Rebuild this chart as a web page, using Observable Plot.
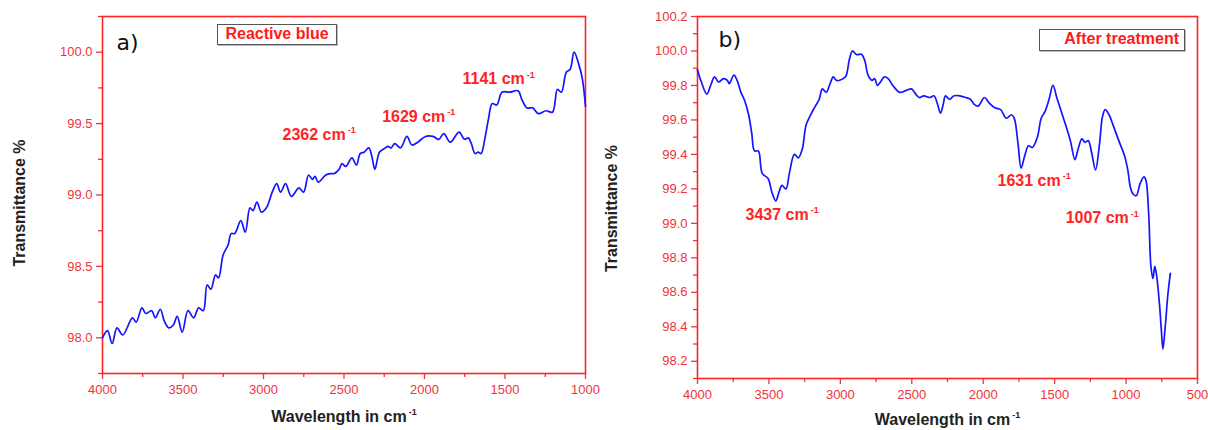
<!DOCTYPE html>
<html>
<head>
<meta charset="utf-8">
<script src="https://cdn.jsdelivr.net/npm/d3@7"></script>
<script src="https://cdn.jsdelivr.net/npm/@observablehq/plot@0.6"></script>
<style>
  body { margin: 0; background: #fff; }
  #wrap { position: relative; width: 1208px; height: 430px; overflow: hidden;
          font-family: "Liberation Sans", Arial, sans-serif; }
  .panel { position: absolute; top: 0; }
  .legend { position: absolute; box-sizing: border-box; border: 1px solid #555; background: #fff;
            color: #ff1a1a; font-weight: bold; font-size: 16px; line-height: 18px;
            box-shadow: 1px 1px 0 #bbb; white-space: nowrap; }
</style>
</head>
<body>
<div id="wrap"></div>
<script>
// FTIR spectrum (a): reactive blue dye
const wnA = [4000, 3969, 3940, 3910, 3874, 3814, 3791, 3755, 3731, 3695, 3672, 3641, 3617, 3588, 3560, 3536,
  3505, 3469, 3434, 3403, 3374, 3350, 3327, 3298, 3279, 3251, 3220, 3201, 3179, 3141, 3113, 3084, 3065,
  3041, 3013, 2982, 2946, 2918, 2894, 2863, 2827, 2780, 2751, 2720, 2696, 2680, 2660, 2613, 2584, 2561,
  2530, 2513, 2489, 2451, 2423, 2399, 2375, 2346, 2327, 2308, 2280, 2256, 2227, 2208, 2185, 2149, 2109,
  2078, 2042, 1994, 1947, 1911, 1880, 1840, 1785, 1752, 1728, 1709, 1686, 1667, 1648, 1626, 1603, 1579,
  1551, 1519, 1471, 1419, 1396, 1364, 1328, 1293, 1245, 1205, 1174, 1150, 1119, 1095, 1071, 1043, 1019, 1000];
const tA = [98.00, 98.05, 97.96, 98.07, 98.02, 98.14, 98.11, 98.21, 98.17, 98.19, 98.14, 98.20, 98.12, 98.07,
  98.09, 98.15, 98.04, 98.19, 98.14, 98.21, 98.19, 98.37, 98.34, 98.44, 98.42, 98.58, 98.65, 98.73, 98.73,
  98.82, 98.74, 98.91, 98.89, 98.95, 98.88, 98.91, 99.02, 99.08, 99.02, 99.08, 98.99, 99.05, 99.02, 99.14,
  99.11, 99.13, 99.09, 99.14, 99.15, 99.15, 99.18, 99.22, 99.20, 99.26, 99.21, 99.29, 99.30, 99.33, 99.27,
  99.18, 99.30, 99.32, 99.34, 99.33, 99.36, 99.33, 99.41, 99.35, 99.37, 99.41, 99.41, 99.39, 99.43, 99.37,
  99.44, 99.39, 99.40, 99.36, 99.29, 99.30, 99.29, 99.39, 99.53, 99.64, 99.63, 99.72, 99.72, 99.73, 99.67,
  99.61, 99.61, 99.57, 99.59, 99.58, 99.74, 99.72, 99.86, 99.88, 100.00, 99.92, 99.81, 99.62];

// FTIR spectrum (b): after treatment
const wnB = [4000, 3973, 3935, 3908, 3881, 3853, 3818, 3791, 3778, 3745, 3723, 3696, 3669, 3642, 3620, 3601,
  3574, 3547, 3506, 3479, 3452, 3430, 3409, 3381, 3357, 3322, 3295, 3267, 3240, 3208, 3175, 3148, 3126,
  3099, 3072, 3050, 3029, 3004, 2964, 2937, 2915, 2888, 2850, 2828, 2806, 2779, 2760, 2741, 2719, 2692,
  2665, 2633, 2584, 2543, 2502, 2481, 2448, 2416, 2372, 2345, 2323, 2299, 2280, 2264, 2237, 2204, 2163,
  2123, 2090, 2063, 2036, 1992, 1960, 1919, 1878, 1838, 1802, 1783, 1756, 1735, 1710, 1683, 1656, 1621,
  1594, 1567, 1539, 1512, 1485, 1458, 1423, 1390, 1358, 1336, 1309, 1287, 1265, 1241, 1214, 1186, 1165,
  1146, 1119, 1091, 1051, 1010, 988, 970, 951, 929, 902, 875, 861, 842, 826, 812, 799, 785, 766, 753,
  742, 726, 707, 690];
const tB = [99.89, 99.82, 99.75, 99.80, 99.85, 99.82, 99.84, 99.83, 99.81, 99.86, 99.83, 99.76, 99.71, 99.63,
  99.52, 99.42, 99.42, 99.29, 99.26, 99.18, 99.13, 99.18, 99.22, 99.20, 99.29, 99.40, 99.38, 99.43, 99.57,
  99.63, 99.68, 99.72, 99.78, 99.76, 99.81, 99.85, 99.83, 99.83, 99.85, 99.95, 100.00, 99.98, 99.98, 99.94,
  99.86, 99.83, 99.84, 99.80, 99.82, 99.85, 99.84, 99.80, 99.76, 99.77, 99.78, 99.76, 99.73, 99.74, 99.73,
  99.74, 99.70, 99.64, 99.69, 99.74, 99.72, 99.74, 99.74, 99.73, 99.72, 99.69, 99.68, 99.73, 99.70, 99.67,
  99.66, 99.61, 99.63, 99.61, 99.46, 99.32, 99.39, 99.45, 99.44, 99.50, 99.61, 99.65, 99.72, 99.80, 99.73,
  99.66, 99.57, 99.48, 99.37, 99.43, 99.49, 99.47, 99.48, 99.41, 99.31, 99.46, 99.62, 99.66, 99.63, 99.57,
  99.48, 99.39, 99.31, 99.21, 99.17, 99.16, 99.23, 99.27, 99.25, 99.06, 98.75, 98.68, 98.75, 98.69, 98.53,
  98.38, 98.27, 98.40, 98.59, 98.71];

// Band annotations: assigned wavenumber and where its label sits (x in cm-1, y in %)
const peaksA = [2362, 1629, 1141];
const peakLabelWnA = [2882, 2263, 1764];
const peakLabelTA = [99.42, 99.55, 99.81];

const peaksB = [3437, 1631, 1007];
const peakLabelWnB = [3664, 1900, 1423];
const peakLabelTB = [99.05, 99.245, 99.03];

const RED = "#ff2323";
const TICK_RED = "#f0333b";
const BLUE = "#1414ff";
const INK = "#222";

function rangeStep(a, b, s) {
  const out = [];
  const n = Math.round((b - a) / s);
  for (let i = 0; i <= n; i++) out.push(+(a + i * s).toFixed(3));
  return out;
}

function panel(cfg) {
  const pts = cfg.wn.map((w, i) => ({w, t: cfg.t[i]}));
  const ann = cfg.peaks.map((p, i) => ({p, x: cfg.labWn[i], y: cfg.labT[i]}));
  const svg = Plot.plot({
    width: cfg.width,
    height: 430,
    marginLeft: cfg.ml, marginRight: cfg.mr, marginTop: cfg.mt, marginBottom: cfg.mb,
    style: {fontFamily: '"Liberation Sans", Arial, sans-serif', fontSize: "13px",
            color: TICK_RED, background: "transparent", overflow: "visible"},
    x: {domain: cfg.xDomain},
    y: {domain: cfg.yDomain},
    marks: [
      Plot.axisX(cfg.xMinor, {tickSize: 4, text: null, label: null, strokeWidth: 1.3}),
      Plot.axisX(cfg.xMajor, {tickSize: 6, tickPadding: 5, label: null, strokeWidth: 1.3,
                              tickFormat: d => String(d)}),
      Plot.axisY(cfg.yMinor, {tickSize: 4, text: null, label: null, strokeWidth: 1.3}),
      Plot.axisY(cfg.yMajor, {tickSize: 6, tickPadding: 4, label: null, strokeWidth: 1.3,
                              tickFormat: d3.format(".1f")}),
      Plot.frame({stroke: RED, strokeWidth: 1.6}),
      Plot.line(pts, {x: "w", y: "t", stroke: BLUE, strokeWidth: 1.7, curve: "catmull-rom"}),
      Plot.text(ann, {x: "x", y: "y", text: d => `${d.p} cm⁻¹`, fill: RED, fontWeight: "bold",
                      fontSize: 16, textAnchor: "start", lineAnchor: "middle"}),
      Plot.text([cfg.tag], {frameAnchor: "top-left", text: d => d, dx: cfg.tagDx, dy: cfg.tagDy,
                            textAnchor: "start", lineAnchor: "middle", fontSize: 22, fill: "#111",
                            fontFamily: '"DejaVu Sans", sans-serif'}),
      Plot.text(["Wavelength in cm⁻¹"], {frameAnchor: "bottom", text: d => d, dy: cfg.xTitleDy,
                            textAnchor: "middle", lineAnchor: "middle", fontSize: 16, fontWeight: "bold", fill: INK}),
      Plot.text(["Transmittance %"], {frameAnchor: "left", text: d => d, dx: cfg.yTitleDx, dy: cfg.yTitleDy,
                            rotate: -90, textAnchor: "middle", lineAnchor: "middle", fontSize: 16,
                            fontWeight: "bold", fill: INK})
    ]
  });

  // Render "-1" as a real superscript after the unit
  d3.select(svg).selectAll("text").each(function () {
    const el = d3.select(this);
    const s = this.textContent;
    if (this.childElementCount === 0 && s.endsWith("cm⁻¹")) {
      const big = parseFloat(el.attr("font-size")) || 15;
      el.text(s.slice(0, -2));
      el.append("tspan").attr("font-size", Math.round(big * 0.6)).attr("dx", 2)
        .attr("dy", -big * 0.45).text("-1");
    }
  });

  svg.classList.add("panel");
  svg.style.left = cfg.left + "px";
  return svg;
}

const wrap = document.getElementById("wrap");

wrap.appendChild(panel({
  left: 0, width: 600, ml: 102, mr: 15, mt: 16, mb: 57,
  wn: wnA, t: tA, peaks: peaksA, labWn: peakLabelWnA, labT: peakLabelTA,
  xDomain: [4000, 1000], yDomain: [97.75, 100.25],
  xMajor: rangeStep(1000, 4000, 500), xMinor: rangeStep(1250, 3750, 500),
  yMajor: rangeStep(98, 100, 0.5), yMinor: rangeStep(97.75, 100.25, 0.5),
  tag: "a)", tagDx: 14, tagDy: 26,
  xTitleDy: 43, yTitleDx: -83, yTitleDy: 8
}));

wrap.appendChild(panel({
  left: 600, width: 608, ml: 97, mr: 11, mt: 16, mb: 52,
  wn: wnB, t: tB, peaks: peaksB, labWn: peakLabelWnB, labT: peakLabelTB,
  xDomain: [4000, 500], yDomain: [98.1, 100.2],
  xMajor: rangeStep(500, 4000, 500), xMinor: rangeStep(750, 3750, 500),
  yMajor: rangeStep(98.2, 100.2, 0.2), yMinor: rangeStep(98.1, 100.1, 0.2),
  tag: "b)", tagDx: 21, tagDy: 23,
  xTitleDy: 41, yTitleDx: -86, yTitleDy: 11
}));

// Sample legends
const legends = [
  {text: "Reactive blue", left: 217, top: 24, width: 120, height: 21, align: "center", pad: 0},
  {text: "After treatment", left: 1039, top: 29, width: 146, height: 22, align: "right", pad: 5}
];
for (const l of legends) {
  const d = document.createElement("div");
  d.className = "legend";
  d.textContent = l.text;
  Object.assign(d.style, {left: l.left + "px", top: l.top + "px", width: l.width + "px",
    height: l.height + "px", textAlign: l.align, paddingRight: l.pad + "px"});
  wrap.appendChild(d);
}
</script>
</body>
</html>
